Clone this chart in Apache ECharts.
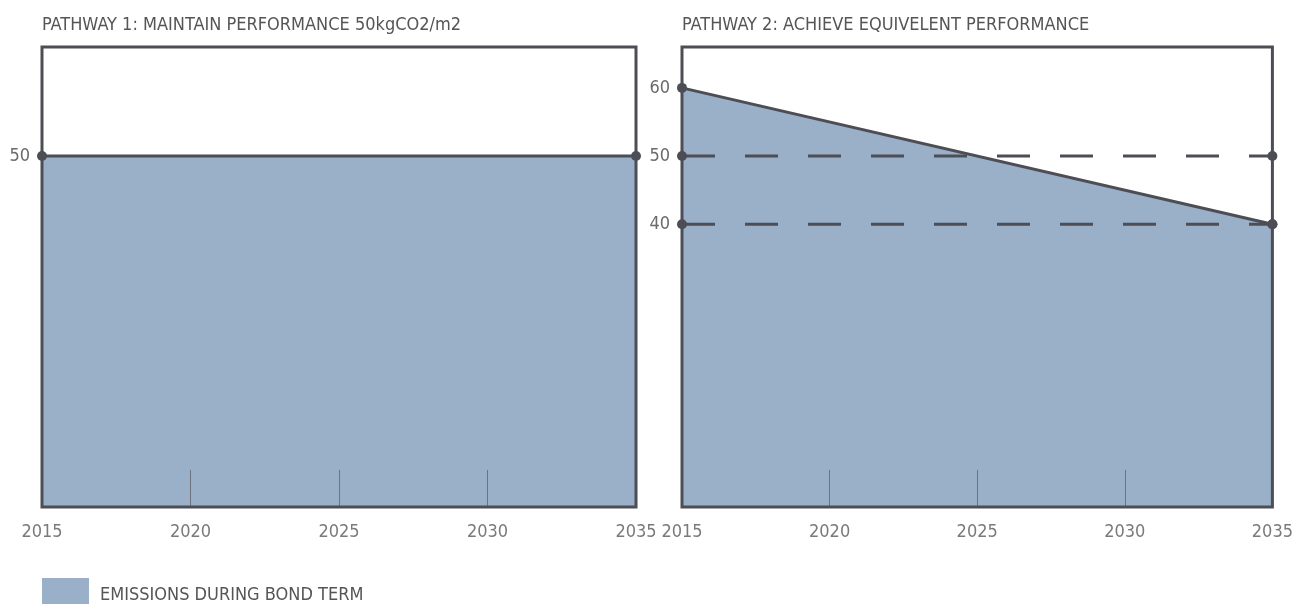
<!DOCTYPE html>
<html>
<head>
<meta charset="utf-8">
<script src="https://cdn.jsdelivr.net/npm/echarts@6/dist/echarts.min.js"></script>
<style>
  html, body { margin: 0; padding: 0; background: #fff; }
  #main { width: 1296px; height: 604px; }
</style>
</head>
<body>
<div id="main"></div>
<script>
// data
var years = [2015, 2020, 2025, 2030, 2035];
var innerYears = [2020, 2025, 2030];
var pathway1 = [[2015, 50], [2035, 50]];
var pathway2 = [[2015, 60], [2035, 40]];
var ref50 = [[2015, 50], [2035, 50]];
var ref40 = [[2015, 40], [2035, 40]];
var leftTicks = [50];
var rightTicks = [40, 50, 60];
var titles = ['PATHWAY 1: MAINTAIN PERFORMANCE 50kgCO2/m2', 'PATHWAY 2: ACHIEVE EQUIVELENT PERFORMANCE'];
var legendName = 'EMISSIONS DURING BOND TERM';

var fontFam = '"Liberation Sans Narrow", "DejaVu Sans Condensed", Roboto, sans-serif';
var fill = '#9aafc8';
var dark = '#4d4e55';

function xAxisFor(idx) {
  return {
    type: 'value', gridIndex: idx, min: 2015, max: 2035, interval: 5, z: 6,
    axisLine: { show: false, onZero: false },
    axisTick: { show: true, inside: true, length: 37, customValues: innerYears,
      lineStyle: { color: '#6c7482', width: 1 } },
    axisLabel: { color: '#7a7a7a', fontSize: 18, fontFamily: fontFam, margin: 16,
      customValues: years, formatter: function (v) { return String(v); } },
    splitLine: { show: false }
  };
}
function yAxisFor(idx, ticks) {
  return {
    type: 'value', gridIndex: idx, min: -1.5, max: 66,
    axisLine: { show: false, onZero: false },
    axisTick: { show: false },
    axisLabel: { color: '#6a6a6a', fontSize: 18, fontFamily: fontFam, margin: 12, customValues: ticks },
    splitLine: { show: false }
  };
}
function gridFor(left, right) {
  return {
    left: left, right: right, top: 47, bottom: 97,
    show: true, z: 10, backgroundColor: 'transparent',
    borderColor: dark, borderWidth: 3
  };
}

var chart = echarts.init(document.getElementById('main'));
var option = {
  animation: false,
  title: [
    { text: titles[0], left: 37, top: 11, textStyle: { color: '#555', fontSize: 18, fontWeight: 'normal', fontFamily: fontFam } },
    { text: titles[1], left: 677, top: 11, textStyle: { color: '#555', fontSize: 18, fontWeight: 'normal', fontFamily: fontFam } }
  ],
  legend: {
    left: 37, top: 573, itemWidth: 47, itemHeight: 34, itemGap: 10,
    selectedMode: false,
    textStyle: { color: '#555', fontSize: 18, fontFamily: fontFam, padding: [0, 0, 0, 6] },
    data: [{ name: legendName, icon: 'rect', itemStyle: { color: fill, borderWidth: 0 } }]
  },
  grid: [gridFor(42, 660), gridFor(682, 22)],
  xAxis: [xAxisFor(0), xAxisFor(1)],
  yAxis: [yAxisFor(0, leftTicks), yAxisFor(1, rightTicks)],
  series: [
    {
      name: legendName, type: 'line', xAxisIndex: 0, yAxisIndex: 0, data: pathway1,
      symbol: 'circle', symbolSize: 10, itemStyle: { color: dark },
      lineStyle: { color: dark, width: 3 },
      areaStyle: { color: fill, opacity: 1, origin: 'start' }, z: 3
    },
    {
      name: legendName, type: 'line', xAxisIndex: 1, yAxisIndex: 1, data: pathway2,
      symbol: 'circle', symbolSize: 10, itemStyle: { color: dark },
      lineStyle: { color: dark, width: 3 },
      areaStyle: { color: fill, opacity: 1, origin: 'start' }, z: 3
    },
    {
      name: 'ref50', type: 'line', xAxisIndex: 1, yAxisIndex: 1, data: ref50,
      symbol: 'circle', symbolSize: 10, itemStyle: { color: dark },
      lineStyle: { color: dark, width: 3, type: [33, 30] }, z: 4
    },
    {
      name: 'ref40', type: 'line', xAxisIndex: 1, yAxisIndex: 1, data: ref40,
      symbol: 'circle', symbolSize: 10, itemStyle: { color: dark },
      lineStyle: { color: dark, width: 3, type: [33, 30] }, z: 4
    }
  ]
};
chart.setOption(option);
</script>
</body>
</html>
